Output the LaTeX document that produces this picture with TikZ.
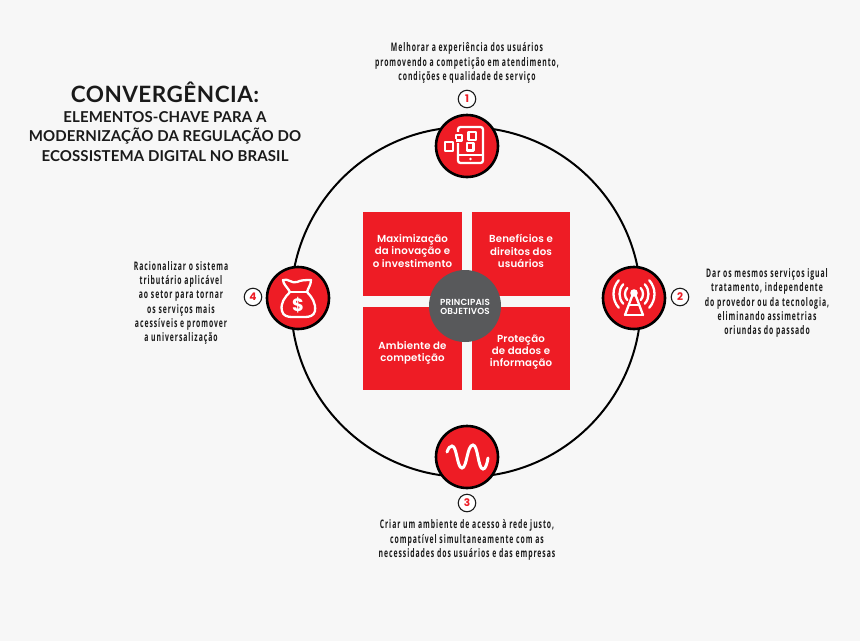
\documentclass[tikz,border=0pt]{standalone}
\usepackage{fontspec}
\setmainfont{Lato}
\newfontfamily\titlefont[LetterSpace=2.2]{Lato Bold}
\newfontfamily\headfont[LetterSpace=0.8]{Lato Bold}
\newfontfamily\boxfont[LetterSpace=1.5]{Poppins SemiBold}
\newfontfamily\numfont{Poppins}
\newfontfamily\smallfont[FakeStretch=0.58,LetterSpace=8]{Open Sans}
\definecolor{bgc}{HTML}{F7F7F7}
\definecolor{redc}{HTML}{EE1C25}
\definecolor{grayc}{HTML}{58595B}
\definecolor{inkc}{HTML}{1A1A1A}
\tikzset{
  quad/.style={fill=redc,draw=none,minimum width=98.5pt,minimum height=83.5pt,inner sep=0pt},
  quadtext/.style={text=white,align=center,inner sep=0pt,font=\boxfont\fontsize{10.2}{12.2}\selectfont},
  hub/.style={circle,fill=redc,draw=black,line width=2.6pt,minimum size=62pt,inner sep=0pt},
  num/.style={circle,fill=white,draw=inkc,line width=1.1pt,minimum size=17.5pt,inner sep=0pt,text=redc,font=\numfont\bfseries\fontsize{10.5}{10.5}\selectfont},
  note/.style={align=center,text=inkc,inner sep=0pt,font=\smallfont\bfseries\fontsize{11.8}{14.3}\selectfont},
  ico/.style={draw=white,line width=2.3pt,fill=none,line join=round,line cap=round},
  head/.style={align=center,text=inkc,inner sep=0pt}
}
\begin{document}
\begin{tikzpicture}[x=1pt,y=-1pt]
\useasboundingbox (0,0) rectangle (860,641);
\fill[bgc] (0,0) rectangle (860,641);
\coordinate (ctr) at (466,302);
\draw[black,line width=2pt] (ctr) circle[radius=175];
% quadrants
\node[quad] (q1) at (412.5,254) {};
\node[quad] (q2) at (521,254) {};
\node[quad] (q3) at (412.5,348.5) {};
\node[quad] (q4) at (521,348.5) {};
\node[circle,fill=grayc,minimum size=72pt,inner sep=0pt] (core) at (465,306) {};
\node[text=white,align=center,inner sep=0pt,font=\boxfont\fontsize{8.8}{9.6}\selectfont] (coret) at (465,307) {PRINCIPAIS\\OBJETIVOS};
\node[quadtext] (t1) at (412.5,251) {Maximização\\da inovação e\\o investimento};
\node[quadtext] (t2) at (521,251) {Benefícios e\\direitos dos\\usuários};
\node[quadtext] (t3) at (412.5,352.5) {Ambiente de\\competição};
\node[quadtext] (t4) at (521,352) {Proteção\\de dados e\\informação};
% hubs
\node[hub] (h1) at (467,146) {};
\node[hub] (h2) at (634,298) {};
\node[hub] (h3) at (467,457) {};
\node[hub] (h4) at (298,298) {};
\node[num] (n1) at (467,99) {1};
\node[num] (n2) at (680,297) {2};
\node[num] (n3) at (467,503) {3};
\node[num] (n4) at (253,297) {4};
% icon 1: phone with squares
\begin{scope}[shift={(467,146)}]
  \draw[ico,rounded corners=2.5pt] (-9,-19) rectangle (16,17);
  \draw[ico] (-9,9) -- (16,9);
  \fill[white] (3.5,13) circle[radius=1.4];
  \fill[redc] (-14,-14) rectangle (-2,-3);
  \draw[ico,line cap=butt] (-11,-11) rectangle (-5,-5.5);
  \fill[redc] (-25,-7) rectangle (-11,8);
  \draw[ico,line cap=butt] (-22,-4) rectangle (-14,5);
  \draw[ico,line cap=butt] (1.5,-14) rectangle (9,-6);
  \draw[ico,line cap=butt] (0,-3) rectangle (6.5,4.5);
\end{scope}
% icon 2: antenna
\begin{scope}[shift={(634,298)}]
  \fill[white] (0,-5) circle[radius=3.8];
  \draw[ico] (-9,17) -- (-1.5,-3) (9,17) -- (1.5,-3);
  \draw[ico] (-9,17) -- (9,17) (-5,7) -- (5,7);
  \foreach \r in {9,14.5,20.5}{
    \draw[ico] ([shift={(0,-4)}]-42:\r) arc[start angle=-42,end angle=42,radius=\r];
    \draw[ico] ([shift={(0,-4)}]138:\r) arc[start angle=138,end angle=222,radius=\r];
  }
\end{scope}
% icon 3: wave
\begin{scope}[shift={(467,457)}]
  \draw[white,line width=3pt,line cap=round] (-20,-5)
    .. controls (-18.5,-9) and (-17,-11) .. (-15,-11)
    .. controls (-10,-11) and (-10,11) .. (-5,11)
    .. controls (0,11) and (0,-12) .. (6,-12)
    .. controls (11,-12) and (11,12) .. (16,12)
    .. controls (18.5,12) and (20,7) .. (21,1);
\end{scope}
% icon 4: money bag
\begin{scope}[shift={(298,298)}]
  \draw[ico] (-8,-6) .. controls (-10,-10) and (-15,-14) .. (-15,-18)
    .. controls (-10,-20) and (-6,-14) .. (-1,-16)
    .. controls (3,-18) and (8,-18) .. (13,-18)
    .. controls (13,-13) and (10,-10) .. (9,-6);
  \draw[ico] (-8,-6) -- (9,-6);
  \draw[ico] (-8,-6) .. controls (-13,-1) and (-18,5) .. (-16,13)
    .. controls (-15,18) and (-10,19) .. (-6,19) -- (7,19)
    .. controls (11,19) and (16,18) .. (17,13)
    .. controls (18,5) and (14,-1) .. (9,-6);
  \node[text=white,inner sep=0pt,font=\numfont\bfseries\fontsize{18}{18}\selectfont] (dollar) at (0,7) {\$};
\end{scope}
% texts
\node[head,font=\titlefont\fontsize{22.5}{24}\selectfont] (title) at (165,92.5) {CONVERGÊNCIA:};
\node[head,font=\headfont\fontsize{15}{19.6}\selectfont] (sub) at (165,136.5) {ELEMENTOS-CHAVE PARA A\\MODERNIZAÇÃO DA REGULAÇÃO DO\\ECOSSISTEMA DIGITAL NO BRASIL};
\node[note] (d1) at (467,63) {Melhorar a experiência dos usuários\\promovendo a competição em atendimento,\\condições e qualidade de serviço};
\node[note] (d2) at (767,303) {Dar os mesmos serviços igual\\tratamento, independente\\do provedor ou da tecnologia,\\eliminando assimetrias\\oriundas do passado};
\node[note] (d3) at (467,540) {Criar um ambiente de acesso à rede justo,\\compatível simultaneamente com as\\necessidades dos usuários e das empresas};
\node[note] (d4) at (181,303) {Racionalizar o sistema\\tributário aplicável\\ao setor para tornar\\os serviços mais\\acessíveis e promover\\a universalização};
\end{tikzpicture}
\end{document}
